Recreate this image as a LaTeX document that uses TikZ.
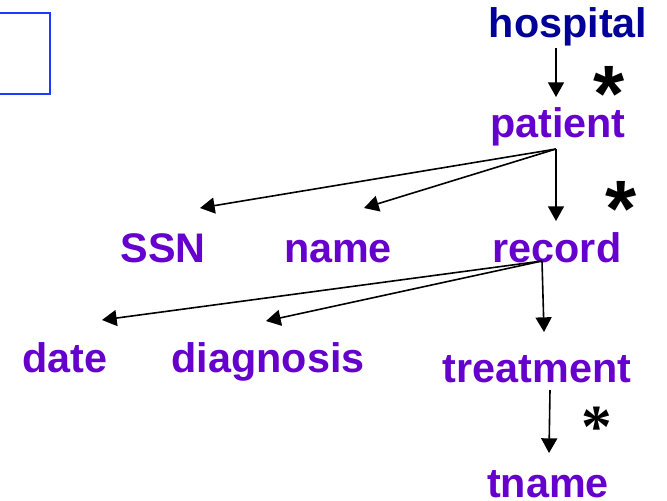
\documentclass[tikz,border=0pt]{standalone}
\usepackage{fontspec}
\setmainfont{Liberation Sans}
\newfontfamily\serifstar{Liberation Serif}
\usetikzlibrary{arrows.meta}
\definecolor{navyc}{HTML}{000099}
\definecolor{purp}{HTML}{6600CC}
\definecolor{boxblue}{HTML}{1A3CFF}
\begin{document}
\begin{tikzpicture}[x=0.75pt,y=-0.75pt,
  lbl/.style={anchor=base,inner sep=0pt,text=purp,font=\bfseries\fontsize{31}{31}\selectfont},
  rootlbl/.style={lbl,text=navyc},
  starlbl/.style={anchor=base,inner sep=0pt,text=black,font=\bfseries\fontsize{60}{60}\selectfont},
  star3/.style={anchor=base,inner sep=0pt,text=black,font=\serifstar\bfseries\fontsize{46}{46}\selectfont},
  arr/.style={line width=1.2pt,-{Triangle[length=11pt,width=12pt]}}]
\useasboundingbox (0,0) rectangle (667,500);
\draw[boxblue,line width=1.6pt] (-10,13) rectangle (50,94);
% labels
\node[rootlbl] (hospital) at (568,37) {hospital};
\node[lbl] (patient) at (558,137) {patient};
\node[lbl] (SSN) at (163,262) {SSN};
\node[lbl] (name) at (338,262) {name};
\node[lbl] (record) at (557,262) {record};
\node[lbl] (date) at (65,372) {date};
\node[lbl] (diagnosis) at (268,372) {diagnosis};
\node[lbl] (treatment) at (537,382) {treatment};
\node[lbl] (tname) at (548,497) {tname};
% stars
\node[starlbl] (s1) at (609,121) {*};
\node[starlbl] (s2) at (621,236) {*};
\node[star3] (s3) at (597,447) {*};
% connector points
\coordinate (hb) at (556,48);
\coordinate (pin) at (556,97);
\coordinate (pb) at (556,149);
\coordinate (ssnin) at (200,208);
\coordinate (namein) at (364,208);
\coordinate (recin) at (556,221);
\coordinate (rb) at (542,261);
\coordinate (datein) at (102,320);
\coordinate (diagin) at (266,321);
\coordinate (treatin) at (544,332);
\coordinate (tb) at (550,390);
\coordinate (tnin) at (549,453);
% connectors
\draw[arr] (hb) -- (pin);
\draw[arr] (pb) -- (ssnin);
\draw[arr] (pb) -- (namein);
\draw[arr] (pb) -- (recin);
\draw[arr] (rb) -- (datein);
\draw[arr] (rb) -- (diagin);
\draw[arr] (rb) -- (treatin);
\draw[arr] (tb) -- (tnin);
\end{tikzpicture}
\end{document}
